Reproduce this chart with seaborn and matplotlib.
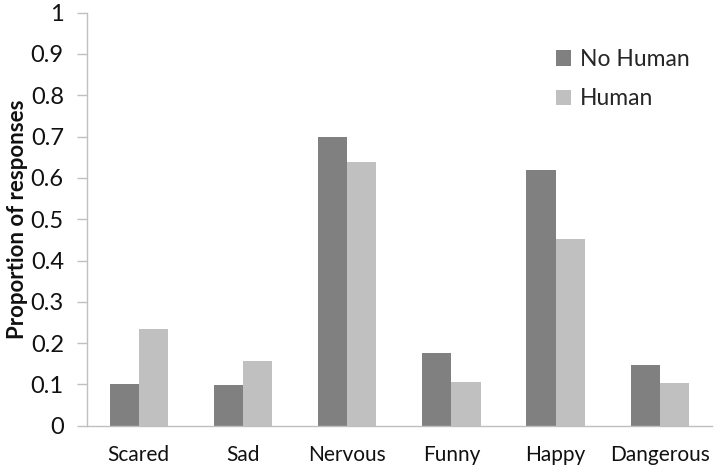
import matplotlib
matplotlib.use("Agg")
import matplotlib.pyplot as plt
import seaborn as sns
import numpy as np
import pandas as pd

emotions = ["Scared", "Sad", "Nervous", "Funny", "Happy", "Dangerous"]
no_human = [0.101, 0.098, 0.700, 0.175, 0.620, 0.146]
human = [0.234, 0.156, 0.638, 0.107, 0.453, 0.104]
conditions = ["No Human", "Human"]
y_ticks = [0, 0.1, 0.2, 0.3, 0.4, 0.5, 0.6, 0.7, 0.8, 0.9, 1]
y_tick_labels = ["0", "0.1", "0.2", "0.3", "0.4", "0.5", "0.6", "0.7", "0.8", "0.9", "1"]

df = pd.DataFrame({
    "emotion": emotions * 2,
    "proportion": no_human + human,
    "condition": [conditions[0]] * len(emotions) + [conditions[1]] * len(emotions),
})

sns.set_style("white")
plt.rcParams["font.family"] = ["Lato", "DejaVu Sans"]
axis_grey = "#BFBFBF"
text_col = "#111111"

fig = plt.figure(figsize=(7.16, 4.71), dpi=100)
W, H = 716, 471
left, right, top, bottom = 86.7, 712, 12.7, 425.7
ax = fig.add_axes([left / W, 1 - bottom / H, (right - left) / W, (bottom - top) / H])

sns.barplot(data=df, x="emotion", y="proportion", hue="condition",
            palette=["#808080", "#C0C0C0"], saturation=1, width=0.56,
            errorbar=None, linewidth=0, ax=ax)

ax.set_ylim(0, 1)
ax.set_xlim(-0.5, len(emotions) - 0.5)
ax.set_yticks(y_ticks)
ax.set_yticklabels(y_tick_labels, fontsize=17, color=text_col)
ax.set_xlabel("")
ax.set_ylabel("Proportion of responses", fontsize=16, fontweight="bold",
              color=text_col, labelpad=2)

# category boundary ticks on x, labels centred between them
ax.set_xticks(np.arange(-0.5, len(emotions)), minor=True)
ax.tick_params(axis="x", which="major", length=0, pad=14, labelsize=15, labelcolor=text_col)
ax.tick_params(axis="x", which="minor", length=7.5, width=1, color=axis_grey, direction="out")
ax.tick_params(axis="y", which="major", length=7.5, width=1, color=axis_grey,
               direction="out", left=True, pad=9)

for side in ["top", "right"]:
    ax.spines[side].set_visible(False)
for side in ["left", "bottom"]:
    ax.spines[side].set_color(axis_grey)
    ax.spines[side].set_linewidth(1)

handles, labels = ax.get_legend_handles_labels()
ax.legend(handles, labels, loc="upper left", bbox_to_anchor=(556 / W, 1 - 49 / H),
          bbox_transform=fig.transFigure, frameon=False, fontsize=16.5,
          handlelength=0.65, handleheight=0.65, handletextpad=0.4, labelspacing=0.8,
          borderaxespad=0, borderpad=0)

fig.savefig("out.png", dpi=100)
